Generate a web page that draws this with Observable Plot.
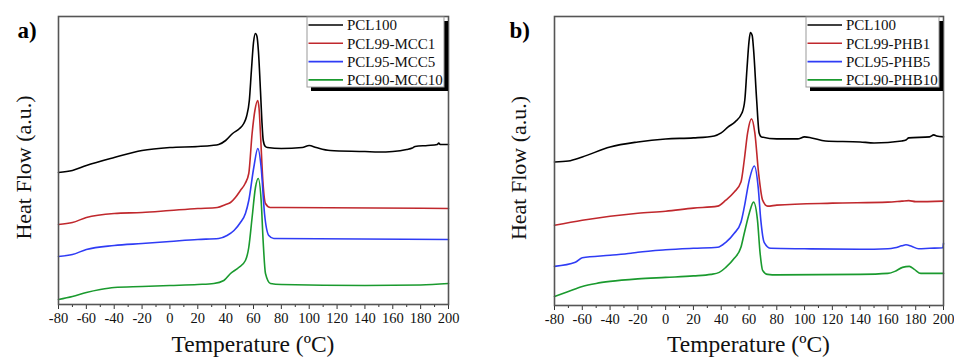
<!DOCTYPE html>
<html><head><meta charset="utf-8">
<script src="https://cdn.jsdelivr.net/npm/d3@7"></script>
<script src="https://cdn.jsdelivr.net/npm/@observablehq/plot@0.6"></script>
<style>
html,body{margin:0;padding:0;background:#fff;}
#fig{display:flex;width:954px;height:358px;overflow:hidden;}
</style></head><body><div id="fig"></div>
<script>
// ---------- data ----------
const xTicks = [-80,-60,-40,-20,0,20,40,60,80,100,120,140,160,180,200];
const minorTicks = [-70,-50,-30,-10,10,30,50,70,90,110,130,150,170,190];
const namesA = ["PCL100","PCL99-MCC1","PCL95-MCC5","PCL90-MCC10"];
const namesB = ["PCL100","PCL99-PHB1","PCL95-PHB5","PCL90-PHB10"];
const seriesColors = ["#000000","#c0282d","#2f3cf5","#1a9a2e"];
const xTitle = "Temperature (ºC)";
const yTitle = "Heat Flow (a.u.)";

// panel a) — [temperature °C, heat flow (a.u.)]
const a_PCL100 = [[-80,132],[-70,134],[-60,139],[-40,147],[-20,154],[0,157],[20,158],[30,159],[35,160],[40,164],[45,171],[50,176],[53,181],[55,188],[57,204],[58.5,234],[60,262],[61.4,271],[62.5,268],[63.5,254],[65,214],[66,184],[67,164],[68.5,158],[70,157],[80,156],[95,157],[100,159],[105,157],[115,154],[140,153],[150,152.5],[160,153],[170,155],[174,156.5],[176,158],[185,159],[192,160],[193,161.5],[194,160],[200,160]];
const a_MCC1 = [[-80,80],[-70,82],[-60,87],[-40,91],[-20,92],[0,94],[20,96],[34,97],[40,100],[43.5,102],[47,107],[50.6,114],[54,121],[56.6,131],[59,171],[61,194],[63,204],[64,196],[65,171],[66.7,124],[68.6,101],[72,97],[80,97],[200,96]];
const a_MCC5 = [[-80,48],[-70,50],[-60,55],[-40,59],[-20,61],[0,63],[20,65],[35,66],[41,69],[46,74],[50.6,82],[54.2,91],[56.6,104],[60.2,137],[63.1,156],[65.5,137],[67.9,91],[71,69],[74.6,66],[200,65]];
const a_MCC10 = [[-80,5],[-70,8],[-60,12],[-50,15],[-40,17],[-20,18],[0,19],[20,20],[31.5,21],[38.7,24],[43.5,31],[49.4,37],[54.2,44],[56.6,57],[59,87],[61.4,117],[63.4,126],[65.5,104],[66.9,64],[68.6,31],[72.2,21],[80,20],[140,19],[180,19.5],[200,21]];

// panel b)
const b_PCL100 = [[-80,143],[-70,144],[-60,148],[-40,158],[-20,163],[0,166],[20,167],[35,169],[40,172],[45,178],[50,183],[55,192],[57,205],[58.5,235],[60,263],[61,272],[62.3,269],[63.3,255],[65.5,205],[67.3,172],[69,168],[80,166],[95,166],[100,168],[105,167],[115,164],[140,163],[150,162],[170,164],[173,165],[175,167],[190,168],[193,170],[195,169],[200,168]];
const b_PHB1 = [[-80,80],[-60,85],[-40,89],[-20,92],[0,94],[20,97],[37.4,99],[43.3,105],[49.4,113],[54.2,123],[56.6,145],[59,172],[61.8,186],[64.2,172],[66.9,132],[69.8,105],[73.4,99],[80,100],[120,102],[160,103],[170,104],[175,104.5],[180,103.5],[200,104]];
const b_PHB5 = [[-80,39],[-65,43],[-60,47.5],[-40,50],[-25,52],[-20,53],[0,55.5],[20,57],[37.4,58],[43.3,63],[49.4,72],[54.2,83],[56.6,98],[60.2,125],[63.8,139],[66.6,118],[68.5,85],[70.9,63],[75.7,57],[100,56.5],[140,56],[160,56.5],[165,57.5],[170,59.5],[173,60.5],[177,59],[182,56.5],[190,57],[199.5,57.5],[200,62]];
const b_PHB10 = [[-80,9],[-70,14],[-60,19],[-50,22],[-40,24],[-20,26.5],[0,28],[20,29.5],[32.6,31],[38.6,33],[43.3,38],[49.4,47],[54.2,58],[56.6,72],[60.2,92],[63.3,103],[66.1,85],[68,52],[69.8,35],[73.4,31],[80,30.5],[140,31],[160,32],[165,34],[170.5,38],[175.4,39],[179,36],[183.7,32],[200,32]];

// ---------- drawing ----------
const FONT = "'Liberation Serif', 'Times New Roman', serif";

function panel({letter, names, series, width, ml, mr, mb, letterDx, ylabDx, legendW}) {
  const height = 358;
  const data = series.flatMap((s, i) => s.map(([t, v]) => ({t, v, name: names[i]})));
  const svg = Plot.plot({
    width, height,
    marginLeft: ml, marginRight: mr, marginTop: 16, marginBottom: mb,
    style: {fontFamily: FONT, background: "transparent", color: "#111", overflow: "visible"},
    x: {domain: [-80, 200]},
    y: {domain: [0, 288], axis: null},
    color: {domain: names, range: seriesColors},
    marks: [
      Plot.axisX({ticks: minorTicks, tickSize: 3, fill: "none", label: null, stroke: "#333"}),
      Plot.axisX({ticks: xTicks, tickSize: 5, tickPadding: 3, fontSize: 14.5, label: null, tickFormat: d => String(d), stroke: "#333", fill: "#111"}),
      Plot.line(data, {x: "t", y: "v", z: "name", stroke: "name", strokeWidth: 1.6, curve: "monotone-x"}),
      Plot.frame({stroke: "#555", strokeWidth: 1.6}),
      Plot.text([yTitle], {frameAnchor: "left", textAnchor: "middle", dx: ylabDx, dy: 7, rotate: -90, fontSize: 22, fill: "#111"}),
      Plot.text([letter], {frameAnchor: "top-left", dx: letterDx, dy: 5, textAnchor: "start", lineAnchor: "top", fontSize: 23, fontWeight: "bold", fill: "#000"})
    ]
  });
  const root = d3.select(svg);
  // x-axis title, baseline just above the bottom edge
  root.append("text")
    .attr("x", (ml + width - mr) / 2).attr("y", height - 6)
    .attr("text-anchor", "middle").attr("font-family", FONT).attr("font-size", 23.5).attr("fill", "#111")
    .text(xTitle);
  // legend with drop shadow, anchored to the top-right corner of the frame
  const frameRight = width - mr;
  const H = 70, T = 17, L = frameRight - 4 - legendW;
  const g = root.append("g").attr("font-family", FONT).attr("font-size", 15).attr("text-anchor", "start");
  g.append("rect").attr("x", L + 4).attr("y", T + 4).attr("width", legendW).attr("height", H).attr("fill", "#000");
  g.append("rect").attr("x", L).attr("y", T).attr("width", legendW).attr("height", H).attr("fill", "#fff").attr("stroke", "#999").attr("stroke-width", 1);
  names.forEach((n, i) => {
    const y = T + 8 + i * 18.3;
    g.append("line").attr("x1", L + 1.5).attr("x2", L + 36).attr("y1", y).attr("y2", y).attr("stroke", seriesColors[i]).attr("stroke-width", 1.6);
    g.append("text").attr("x", L + 40).attr("y", y).attr("dy", "0.35em").attr("text-anchor", "start").attr("fill", "#111").text(n);
  });
  return svg;
}

const fig = document.getElementById("fig");
fig.append(panel({letter: "a)", names: namesA, series: [a_PCL100, a_MCC1, a_MCC5, a_MCC10],
  width: 477, ml: 58, mr: 29, mb: 54, letterDx: -41, ylabDx: -35, legendW: 137}));
fig.append(panel({letter: "b)", names: namesB, series: [b_PCL100, b_PHB1, b_PHB5, b_PHB10],
  width: 477, ml: 77, mr: 11, mb: 53, letterDx: -45, ylabDx: -36, legendW: 133}));
</script>
</body></html>
